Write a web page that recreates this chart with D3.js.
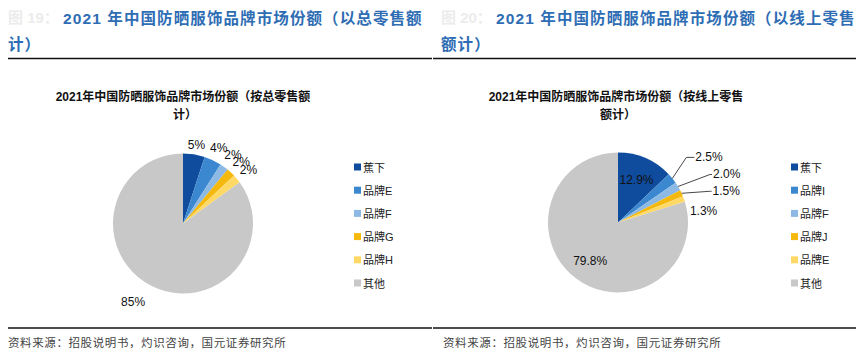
<!DOCTYPE html>
<html><head><meta charset="utf-8">
<script src="https://cdn.jsdelivr.net/npm/d3@7"></script>
<style>
body{margin:0;background:#fff;}
svg{display:block;}
</style></head>
<body>
<svg id="c" width="866" height="358"></svg>
<script>
// ---------- data ----------
const leftCategories = ["蕉下", "品牌E", "品牌F", "品牌G", "品牌H", "其他"];
const leftValues = [5, 4, 2, 2, 2, 85];
const leftLabels = ["5%", "4%", "2%", "2%", "2%", "85%"];
const rightCategories = ["蕉下", "品牌I", "品牌F", "品牌J", "品牌E", "其他"];
const rightValues = [12.9, 2.5, 2.0, 1.5, 1.3, 79.8];
const rightLabels = ["12.9%", "2.5%", "2.0%", "1.5%", "1.3%", "79.8%"];
const headerTitles = [
  ["2021 年中国防晒服饰品牌市场份额（以总零售额", "计）"],
  ["2021 年中国防晒服饰品牌市场份额（以线上零售", "额计）"]
];
const figureNumbers = ["图 19：", "图 20："];
const chartTitles = [
  ["2021年中国防晒服饰品牌市场份额（按总零售额", "计）"],
  ["2021年中国防晒服饰品牌市场份额（按线上零售", "额计）"]
];
const sourceText = "资料来源：招股说明书，灼识咨询，国元证券研究所";

// ---------- styles ----------
const colors = ["#0F4C9E", "#3B87D0", "#8DBAE5", "#F5B80C", "#FFD966", "#C8C8C8"];
const cjk = "'Liberation Sans', 'Noto Sans CJK SC', sans-serif";
const svg = d3.select("#c");

function panel(x0, idx) {
  const g = svg.append("g").attr("transform", `translate(${x0},0)`);
  // figure number (faint)
  g.append("text").attr("x", 8).attr("y", 23).attr("fill", "#ececec")
    .attr("font-family", cjk).attr("font-size", 15).attr("font-weight", "bold")
    .text(figureNumbers[idx]);
  g.append("text").attr("x", 63).attr("y", 24).attr("fill", "#2E6DB4")
    .attr("font-family", cjk).attr("font-size", 15.5).attr("font-weight", "bold")
    .attr("letter-spacing", 1.1)
    .text(headerTitles[idx][0]);
  g.append("text").attr("x", 8).attr("y", 50).attr("fill", "#2E6DB4")
    .attr("font-family", cjk).attr("font-size", 15.5).attr("font-weight", "bold")
    .attr("letter-spacing", 1.1)
    .text(headerTitles[idx][1]);
  const lineX1 = idx === 0 ? 8 : 0, lineX2 = idx === 0 ? 432 : 423;
  g.append("line").attr("x1", lineX1).attr("x2", lineX2).attr("y1", 58.5).attr("y2", 58.5)
    .attr("stroke", "#111").attr("stroke-width", 1.6);
  g.append("line").attr("x1", lineX1).attr("x2", lineX2).attr("y1", 328).attr("y2", 328)
    .attr("stroke", "#111").attr("stroke-width", 1.6);
  g.append("text").attr("x", idx === 0 ? 8 : 10).attr("y", 347).attr("fill", "#444")
    .attr("font-family", cjk).attr("font-size", 11.5).attr("letter-spacing", 0.6)
    .text(sourceText);
  // chart title
  g.append("text").attr("x", 183).attr("y", 101).attr("text-anchor", "middle")
    .attr("font-family", cjk).attr("font-size", 12).attr("font-weight", "bold").attr("fill", "#111")
    .text(chartTitles[idx][0]);
  g.append("text").attr("x", 185).attr("y", 119).attr("text-anchor", "middle")
    .attr("font-family", cjk).attr("font-size", 12).attr("font-weight", "bold").attr("fill", "#111")
    .text(chartTitles[idx][1]);
  return g;
}

function legend(g, cats, lx) {
  const y = d3.scalePoint().domain(cats).range([167, 283]);
  const lg = g.append("g");
  cats.forEach((c, i) => {
    lg.append("rect").attr("x", lx).attr("y", y(c) - 3.5).attr("width", 7).attr("height", 7).attr("fill", colors[i]);
    lg.append("text").attr("x", lx + 9).attr("y", y(c) + 4.5).attr("font-family", cjk)
      .attr("font-size", 11).attr("fill", "#222").text(c);
  });
}

const R = 70;
const pie = d3.pie().sort(null).value(d => d);
const arc = d3.arc().innerRadius(0).outerRadius(R);

// ---------- left ----------
{
  const g = panel(0, 0);
  const cg = g.append("g").attr("transform", "translate(183,223.5)");
  const arcs = pie(leftValues);
  cg.selectAll("path").data(arcs).join("path").attr("d", arc).attr("fill", (d, i) => colors[i]);
  const labelR = [80, 84, 85, 85, 85, 88];
  const nudge = [[1, 0], [0, 0], [0, 0], [0, 0], [0, 0], [-10, 0]];
  cg.selectAll("text.lbl").data(arcs).join("text").attr("class", "lbl")
    .attr("transform", (d, i) => {
      const a = (d.startAngle + d.endAngle) / 2;
      return `translate(${Math.sin(a) * labelR[i] + nudge[i][0]},${-Math.cos(a) * labelR[i] + nudge[i][1]})`;
    })
    .attr("text-anchor", "middle").attr("dy", "0.35em")
    .attr("font-family", "'Liberation Sans', Arial, sans-serif").attr("font-size", 12).attr("fill", "#111")
    .text((d, i) => leftLabels[i]);
  legend(g, leftCategories, 354);
}

// ---------- right ----------
{
  const g = panel(433, 1);
  const cg = g.append("g").attr("transform", "translate(185,222.5)");
  const arcs = pie(rightValues);
  cg.selectAll("path").data(arcs).join("path").attr("d", arc).attr("fill", (d, i) => colors[i]);
  const font = "'Liberation Sans', Arial, sans-serif";
  // inside labels
  const inner = [0, 5];
  inner.forEach(i => {
    const d = arcs[i];
    const a = (d.startAngle + d.endAngle) / 2;
    const rr = i === 0 ? 47 : 47;
    cg.append("text").attr("x", Math.sin(a) * rr).attr("y", -Math.cos(a) * rr)
      .attr("text-anchor", "middle").attr("dy", "0.35em").attr("font-family", font)
      .attr("font-size", 12).attr("fill", "#111").text(rightLabels[i]);
  });
  // outside labels with leader lines (elbow offsets from slice edge)
  const elbow = [null, [14, -21], [32, -12], [28, -2], null, null];
  [1, 2, 3].forEach(i => {
    const d = arcs[i];
    const a = (d.startAngle + d.endAngle) / 2;
    const ax = Math.sin(a) * R, ay = -Math.cos(a) * R;
    const ex = ax + elbow[i][0], ey = ay + elbow[i][1];
    cg.append("polyline").attr("points", `${ax},${ay} ${ex},${ey} ${ex + (i === 1 ? 8 : 2)},${ey}`)
      .attr("fill", "none").attr("stroke", "#333").attr("stroke-width", 0.9);
    cg.append("text").attr("x", ex + (i === 1 ? 9 : 3)).attr("y", ey - 1).attr("dy", "0.35em")
      .attr("font-family", font).attr("font-size", 12).attr("fill", "#111").text(rightLabels[i]);
  });
  {
    const d = arcs[4];
    const a = (d.startAngle + d.endAngle) / 2;
    cg.append("text").attr("x", Math.sin(a) * R + 6).attr("y", -Math.cos(a) * R + 12).attr("dy", "0.35em")
      .attr("font-family", font).attr("font-size", 12).attr("fill", "#111").text(rightLabels[4]);
  }
  legend(g, rightCategories, 358);
}
</script>
</body></html>
